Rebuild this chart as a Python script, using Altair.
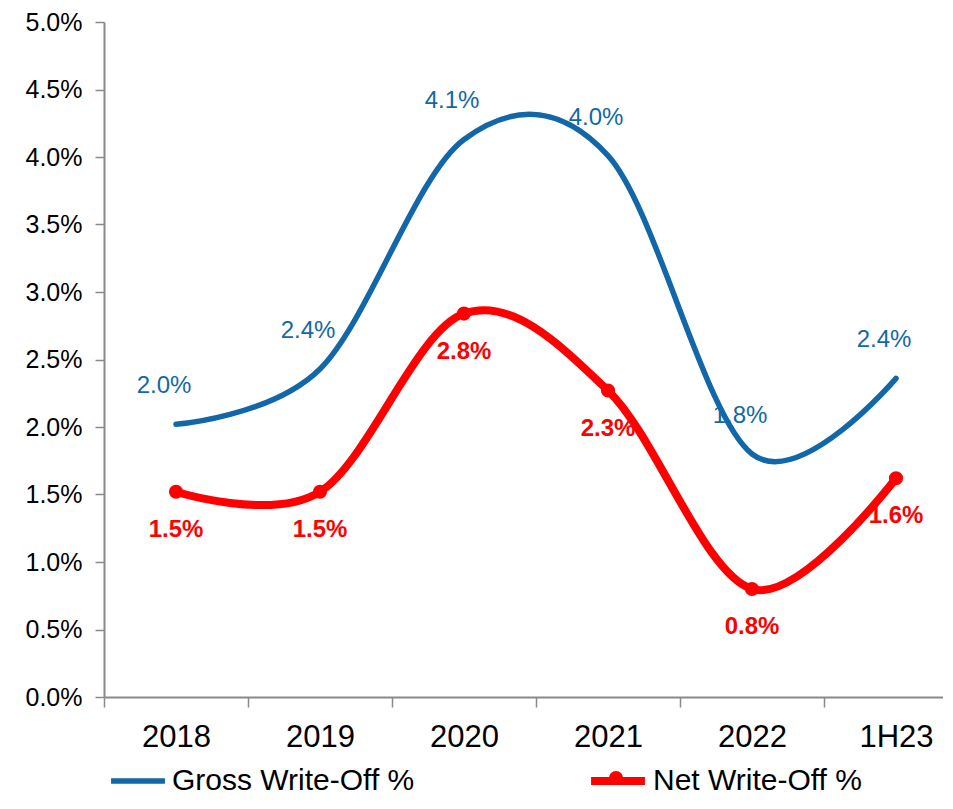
import json
import altair as alt
import pandas as pd

categories = ["2018", "2019", "2020", "2021", "2022", "1H23"]
gross_pct = [2.02, 2.43, 4.13, 4.01, 1.80, 2.36]
net_pct = [1.52, 1.52, 2.84, 2.27, 0.80, 1.62]
series_names = ["Gross Write-Off %", "Net Write-Off %"]
y_ticks = [0.0, 0.5, 1.0, 1.5, 2.0, 2.5, 3.0, 3.5, 4.0, 4.5, 5.0]

rows = []
for i, c in enumerate(categories):
    rows.append({"idx": i, "cat": c, "series": series_names[0], "value": gross_pct[i] / 100})
    rows.append({"idx": i, "cat": c, "series": series_names[1], "value": net_pct[i] / 100})
df = pd.DataFrame(rows)

BLUE = "#1167A8"
RED = "#FF0000"
AXIS_GRAY = "#898989"
FONT = "Liberation Sans"

n = len(categories)
band_px = 144
cats_js = json.dumps(categories)

x_enc = alt.X(
    "idx:Q",
    scale=alt.Scale(domain=[-0.5, n - 0.5], range=[0, band_px * n], nice=False, zero=False),
    axis=alt.Axis(
        title=None,
        values=[i - 0.5 for i in range(n + 1)],
        labelExpr=f"{cats_js}[datum.value + 0.5] || ''",
        labelOffset=band_px / 2,
        labelFlush=False,
        labelFont=FONT,
        labelFontSize=31,
        labelColor="black",
        labelPadding=15,
        tickSize=10,
        tickColor=AXIS_GRAY,
        tickWidth=1.5,
        domainColor=AXIS_GRAY,
        domainWidth=2,
        grid=False,
    ),
)
y_enc = alt.Y(
    "value:Q",
    scale=alt.Scale(domain=[0, 0.05], nice=False),
    axis=alt.Axis(
        title=None,
        values=[v / 100 for v in y_ticks],
        format=".1%",
        labelFont=FONT,
        labelFontSize=25,
        labelColor="black",
        labelPadding=13,
        tickSize=9,
        tickColor=AXIS_GRAY,
        tickWidth=1.5,
        domainColor=AXIS_GRAY,
        domainWidth=2,
        grid=False,
    ),
)

LEG_Y = 728

legend_common = dict(
    title=None,
    orient="none",
    direction="horizontal",
    legendX=4,
    legendY=LEG_Y,
    symbolType="stroke",
    symbolSize=2900,
    labelFont=FONT,
    labelFontSize=30,
    labelColor="black",
    labelLimit=0,
    labelOffset=4,
    columnPadding=160,
    symbolStrokeWidth=5,
)

base = alt.Chart(df)

lines = base.mark_line(interpolate="cardinal", strokeCap="round").encode(
    x=x_enc,
    y=y_enc,
    color=alt.Color(
        "series:N",
        scale=alt.Scale(domain=series_names, range=[BLUE, RED]),
        legend=alt.Legend(**legend_common),
    ),
    strokeWidth=alt.StrokeWidth(
        "series:N",
        scale=alt.Scale(type="ordinal", domain=series_names, range=[5.5, 8]),
        legend=alt.Legend(**legend_common),
    ),
)

points = (
    base.transform_filter(alt.datum.series == series_names[1])
    .transform_calculate(marker="datum.series + ' '")
    .mark_point(filled=True, size=200, opacity=1, color=RED)
    .encode(
        x=x_enc,
        y=y_enc,
        shape=alt.Shape(
            "marker:N",
            scale=alt.Scale(range=["circle"]),
            legend=alt.Legend(
                title=None,
                orient="none",
                legendX=497,
                legendY=LEG_Y + 13,
                symbolSize=200,
                symbolFillColor=RED,
                symbolStrokeColor=RED,
                labelFontSize=30,
                labelExpr="''",
                labelOpacity=0,
            ),
        ),
    )
)

gross_labels = (
    base.transform_filter(alt.datum.series == series_names[0])
    .mark_text(dx=-12, dy=-38, font=FONT, fontSize=24, color=BLUE)
    .encode(x=x_enc, y=y_enc, text=alt.Text("value:Q", format=".1%"))
)

net_labels = (
    base.transform_filter(alt.datum.series == series_names[1])
    .mark_text(dx=0, dy=38, font=FONT, fontSize=24, fontWeight="bold", color=RED)
    .encode(x=x_enc, y=y_enc, text=alt.Text("value:Q", format=".1%"))
)

chart = (
    alt.layer(lines, points, gross_labels, net_labels)
    .properties(
        width=839,
        height=675,
        autosize=alt.AutoSizeParams(type="none"),
        padding={"left": 96, "top": 14, "right": 0, "bottom": 98},
        background="white",
    )
    .configure_view(stroke=None)
)

chart.save("out.html", embed_options={"renderer": "svg", "actions": False})
